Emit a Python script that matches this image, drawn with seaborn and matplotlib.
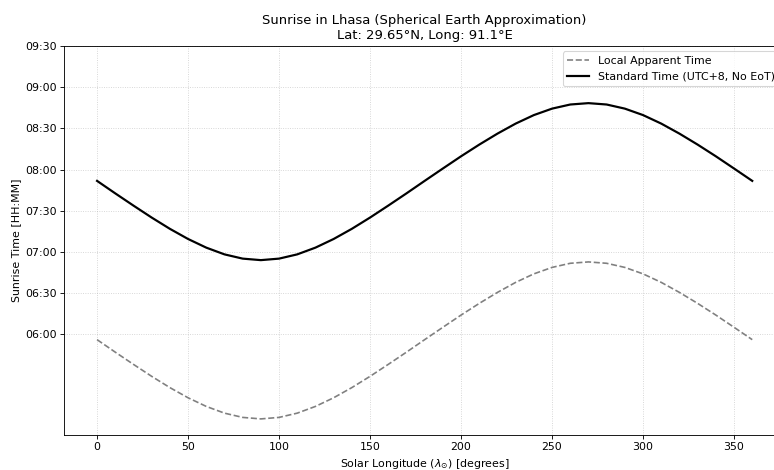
import matplotlib
matplotlib.use("Agg")
import matplotlib.pyplot as plt
from matplotlib.ticker import FuncFormatter, MultipleLocator
import numpy as np
import pandas as pd
import seaborn as sns

# Solar longitude (degrees)
solar_longitude = [0, 10, 20, 30, 40, 50, 60, 70, 80, 90,
                   100, 110, 120, 130, 140, 150, 160, 170, 180,
                   190, 200, 210, 220, 230, 240, 250, 260, 270,
                   280, 290, 300, 310, 320, 330, 340, 350, 360]

# Sunrise, local apparent time (minutes after midnight)
local_apparent = [356.2, 347.1, 338.2, 329.5, 321.3, 313.9, 307.6, 302.7, 299.6, 298.5,
                  299.6, 302.7, 307.6, 313.9, 321.3, 329.5, 338.2, 347.1, 356.2,
                  365.2, 374.1, 382.6, 390.6, 397.9, 404.1, 408.8, 411.8, 412.8,
                  411.8, 408.8, 404.1, 397.9, 390.6, 382.6, 374.1, 365.2, 356.2]

# Sunrise, standard time UTC+8 (minutes after midnight)
standard_time = [471.8, 462.7, 453.8, 445.1, 436.9, 429.5, 423.2, 418.3, 415.2, 414.1,
                 415.2, 418.3, 423.2, 429.5, 436.9, 445.1, 453.8, 462.7, 471.8,
                 480.8, 489.7, 498.2, 506.2, 513.5, 519.7, 524.4, 527.4, 528.4,
                 527.4, 524.4, 519.7, 513.5, 506.2, 498.2, 489.7, 480.8, 471.8]

series_names = ["Local Apparent Time", "Standard Time (UTC+8, No EoT)"]
title_text = "Sunrise in Lhasa (Spherical Earth Approximation)\nLat: 29.65°N, Long: 91.1°E"

df = pd.DataFrame({
    "lon": solar_longitude * 2,
    "minutes": local_apparent + standard_time,
    "series": [series_names[0]] * len(solar_longitude) + [series_names[1]] * len(solar_longitude),
})

plt.rcParams["font.family"] = ["DejaVu Sans"]
dpi = 79
fig = plt.figure(figsize=(774 / dpi, 470 / dpi), dpi=dpi)
ax = fig.add_axes([64.3 / 774, (470 - 434.7) / 470, (785 - 64.3) / 774, (434.7 - 46) / 470])

sns.lineplot(data=df[df.series == series_names[0]], x="lon", y="minutes", ax=ax,
             color="gray", linestyle="--", linewidth=1.5, label=series_names[0])
sns.lineplot(data=df[df.series == series_names[1]], x="lon", y="minutes", ax=ax,
             color="black", linestyle="-", linewidth=2, label=series_names[1])

ax.set_xlim(-18, 378)
lo, hi = ax.get_ylim()
ax.set_ylim(lo, 570)
ax.set_yticks(np.arange(360, 571, 30))
ax.yaxis.set_major_formatter(FuncFormatter(lambda v, p: f"{int(v // 60):02d}:{int(v % 60):02d}"))
ax.xaxis.set_major_locator(MultipleLocator(50))

ax.grid(True, linestyle=":", color="#b0b0b0", alpha=0.6, linewidth=0.8)
ax.set_title(title_text, fontsize=12)
ax.set_xlabel(r"Solar Longitude ($\lambda_{\odot}$) [degrees]", fontsize=10)
ax.set_ylabel("Sunrise Time [HH:MM]", fontsize=10)
ax.tick_params(labelsize=10)
ax.legend(loc="upper right", fontsize=10)

fig.savefig("out.png", dpi=dpi)
